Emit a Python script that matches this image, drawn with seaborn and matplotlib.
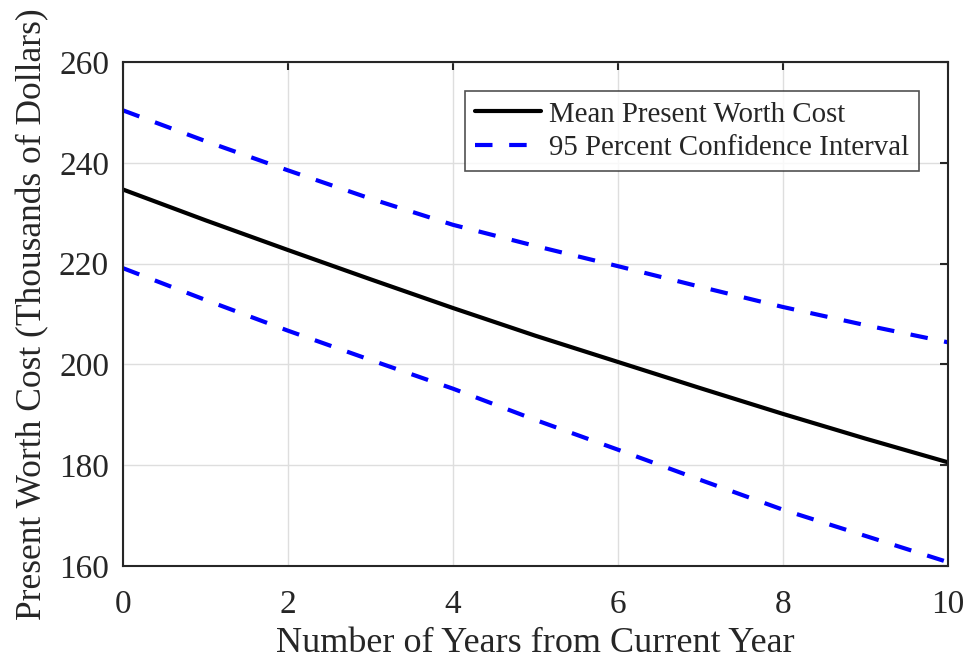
import matplotlib
matplotlib.use("Agg")
import matplotlib.pyplot as plt
import seaborn as sns
import pandas as pd

years = [0, 1, 2, 3, 4, 5, 6, 7, 8, 9, 10]
mean_cost = [234.7, 228.6, 222.7, 216.9, 211.2, 205.7, 200.5, 195.3, 190.2, 185.3, 180.6]
upper_ci = [250.4, 244.3, 238.5, 232.9, 227.7, 223.5, 219.5, 215.4, 211.4, 207.8, 204.4]
lower_ci = [219.1, 212.8, 206.7, 200.9, 195.2, 189.0, 183.1, 177.1, 171.2, 166.0, 160.8]

df = pd.DataFrame({"year": years, "mean": mean_cost, "upper": upper_ci, "lower": lower_ci})

sns.set_style("white")
plt.rcParams["font.family"] = ["Liberation Serif", "DejaVu Serif"]

fig = plt.figure(figsize=(9.68, 6.59), dpi=100)
ax = fig.add_axes([0.127, 0.141, 0.852, 0.765])

lw = 3.0
sns.lineplot(data=df, x="year", y="mean", ax=ax, color="black", linewidth=lw,
             label="Mean Present Worth Cost")
sns.lineplot(data=df, x="year", y="upper", ax=ax, color="#0000ff", linewidth=lw,
             label="95 Percent Confidence Interval")
sns.lineplot(data=df, x="year", y="lower", ax=ax, color="#0000ff", linewidth=lw)
for line in ax.lines[1:]:
    line.set_dashes((4.2, 4.0))

ax.set_xlim(0, 10)
ax.set_ylim(160, 260)
ax.set_xticks([0, 2, 4, 6, 8, 10])
ax.set_yticks([160, 180, 200, 220, 240, 260])
ax.grid(True, color="#dedede", linewidth=1.0)
ax.set_axisbelow(True)

for s in ax.spines.values():
    s.set_color("#262626")
    s.set_linewidth(1.5)
    s.set_visible(True)
ax.tick_params(direction="in", length=6, width=1.5, colors="#262626",
               top=True, right=True, labelsize=24, labelcolor="#262626")
ax.tick_params(axis="x", pad=17)
ax.tick_params(axis="y", pad=10)

ax.set_xlabel("Number of Years from Current Year", fontsize=26, color="#262626", labelpad=5)
ax.set_ylabel("Present Worth Cost (Thousands of Dollars)", fontsize=25.5, color="#262626", labelpad=7)

leg = ax.legend(loc="upper right", bbox_to_anchor=(0.965, 0.942), borderaxespad=0,
                fontsize=20.8, frameon=True, fancybox=False, handlelength=2.3,
                handletextpad=0.25, borderpad=0.35, labelspacing=0.25)
leg.get_frame().set_edgecolor("#262626")
leg.get_frame().set_linewidth(1.2)

fig.savefig("out.png", dpi=100)
